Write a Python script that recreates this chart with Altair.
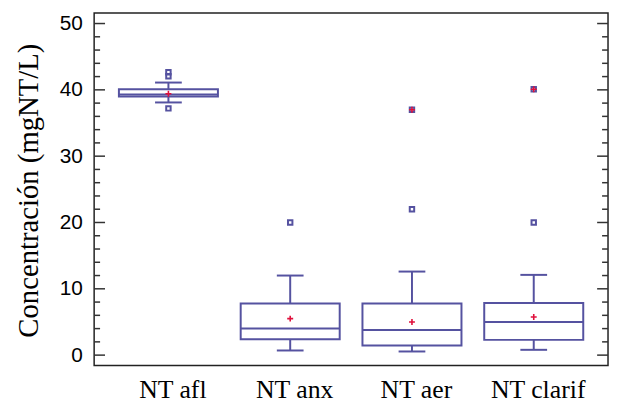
import altair as alt
import pandas as pd

categories = ["NT afl", "NT anx", "NT aer", "NT clarif"]
lower_whisker = [38.1, 0.7, 0.55, 0.8]
q1 = [39.0, 2.4, 1.45, 2.3]
median = [39.3, 4.0, 3.8, 5.0]
q3 = [40.1, 7.8, 7.8, 7.85]
upper_whisker = [41.1, 12.0, 12.6, 12.1]
means = [39.4, 5.5, 5.0, 5.75]

outlier_cat = ["NT afl", "NT afl", "NT afl", "NT anx", "NT aer", "NT aer", "NT clarif", "NT clarif"]
outlier_val = [42.65, 42.05, 37.2, 20.0, 22.0, 37.0, 20.0, 40.1]
outlier_far = [False, False, False, False, False, True, False, True]

y_labels = [0, 10, 20, 30, 40, 50]
minor_ticks = [2, 4, 6, 8, 12, 14, 16, 18, 22, 24, 26, 28, 32, 34, 36, 38, 42, 44, 46, 48]

W, H = 519, 356
BOX = "#5552a0"
RED = "#e0103c"
TICK = "#333333"

stats = pd.DataFrame({
    "cat": categories, "lo": lower_whisker, "q1": q1, "med": median,
    "q3": q3, "hi": upper_whisker, "mean": means,
})
outl = pd.DataFrame({"cat": outlier_cat, "v": outlier_val, "far": outlier_far})
majors = pd.DataFrame({"v": y_labels})
minors = pd.DataFrame({"v": minor_ticks})

yscale = alt.Scale(domain=[-1.55, 51.6], nice=False, zero=False)
xscale = alt.Scale(type="point", domain=categories, padding=0.61)

xenc = alt.X("cat:N", scale=xscale, title=None,
             axis=alt.Axis(ticks=False, domain=False, labelAngle=0,
                           labelFont="Liberation Serif", labelFontSize=26,
                           labelColor="black", labelPadding=11, labelOffset=4,
                           labelBaseline="top"))

yaxis = alt.Axis(values=y_labels, ticks=False, domain=False, grid=False,
                 labelFont="Liberation Sans", labelFontSize=21, labelColor="black",
                 labelPadding=12, labelBaseline="middle",
                 title="Concentración (mgNT/L)", titleFont="Liberation Serif",
                 titleFontSize=29, titleFontWeight="normal", titleColor="black",
                 titleAngle=270, titleAlign="center", titleBaseline="alphabetic",
                 titleX=-57, titleY=179)

base = alt.Chart(stats)

whisk = base.mark_rule(color=BOX, strokeWidth=2).encode(
    x=xenc, y=alt.Y("lo:Q", scale=yscale, axis=yaxis), y2="hi:Q")
box = base.mark_bar(size=100, fill="white", stroke=BOX, strokeWidth=2).encode(
    x=alt.X("cat:N", scale=xscale), y=alt.Y("q1:Q", scale=yscale), y2="q3:Q")
med = base.mark_tick(size=100, thickness=2, color=BOX, orient="horizontal",
                     opacity=1).encode(
    x=alt.X("cat:N", scale=xscale), y=alt.Y("med:Q", scale=yscale))
cap_hi = base.mark_tick(size=27, thickness=2, color=BOX, orient="horizontal",
                        opacity=1).encode(
    x=alt.X("cat:N", scale=xscale), y=alt.Y("hi:Q", scale=yscale))
cap_lo = base.mark_tick(size=27, thickness=2, color=BOX, orient="horizontal",
                        opacity=1).encode(
    x=alt.X("cat:N", scale=xscale), y=alt.Y("lo:Q", scale=yscale))
mean_pt = base.mark_point(shape="M-1,0L1,0M0,-1L0,1", size=36, color=RED,
                          strokeWidth=1.6, filled=False, opacity=1).encode(
    x=alt.X("cat:N", scale=xscale), y=alt.Y("mean:Q", scale=yscale))

out_sq = alt.Chart(outl).mark_point(shape="square", size=20, color=BOX,
                                    strokeWidth=2, filled=False, opacity=1).encode(
    x=alt.X("cat:N", scale=xscale), y=alt.Y("v:Q", scale=yscale))
out_far = alt.Chart(outl).transform_filter("datum.far").mark_point(
    shape="M-1,0L1,0M0,-1L0,1", size=36, color=RED, strokeWidth=1.6, filled=False,
    opacity=1).encode(
    x=alt.X("cat:N", scale=xscale), y=alt.Y("v:Q", scale=yscale))

tl_major = alt.Chart(majors).mark_rule(color=TICK, strokeWidth=1.5).encode(
    y=alt.Y("v:Q", scale=yscale), x=alt.value(0), x2=alt.value(11))
tl_minor = alt.Chart(minors).mark_rule(color=TICK, strokeWidth=1.5).encode(
    y=alt.Y("v:Q", scale=yscale), x=alt.value(0), x2=alt.value(6))
tr_major = alt.Chart(majors).mark_rule(color=TICK, strokeWidth=1.5).encode(
    y=alt.Y("v:Q", scale=yscale), x=alt.value(W - 11), x2=alt.value(W))
tr_minor = alt.Chart(minors).mark_rule(color=TICK, strokeWidth=1.5).encode(
    y=alt.Y("v:Q", scale=yscale), x=alt.value(W - 6), x2=alt.value(W))

chart = alt.layer(
    whisk, box, med, cap_hi, cap_lo, mean_pt, out_sq, out_far,
    tl_major, tl_minor, tr_major, tr_minor,
).properties(
    width=W, height=H,
    autosize=alt.AutoSizeParams(type="none"),
    padding={"left": 87, "top": 3, "right": 2, "bottom": 36},
    background="white",
).configure_view(stroke="#222222", strokeWidth=1.5)

chart.save("out.html", embed_options={"renderer": "svg", "actions": False})
